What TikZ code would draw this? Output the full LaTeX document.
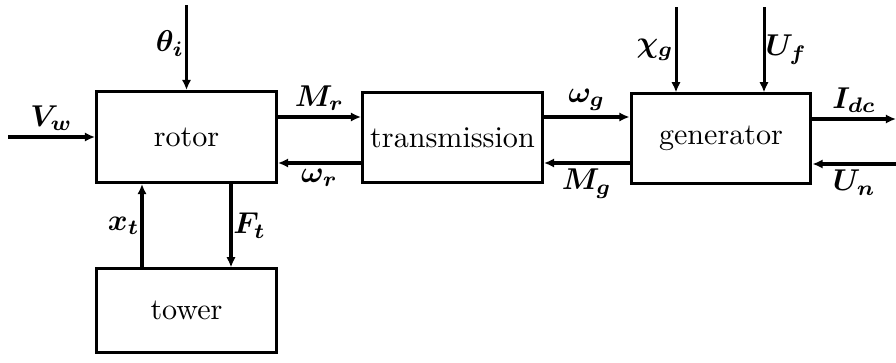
\documentclass[tikz,border=0pt]{standalone}
\usetikzlibrary{arrows.meta}
\begin{document}
\boldmath
\begin{tikzpicture}[
        x=0.01167cm, y=-0.01167cm,
        bloque/.style={rectangle, draw, line width=1pt, align=center, minimum width=2.1cm, minimum height=1.06cm, inner sep=0pt},
        senal/.style={-{Latex[length=3.4pt, width=3.1pt]}, line width=1pt},
        etq/.style={inner sep=1.5pt},
        etqv/.style={inner sep=0.3pt}
    ]
        \useasboundingbox (0,0) rectangle (896,363);
        \node[bloque] (rotor) at (186.5,137) {rotor};
        \node[bloque] (trans) at (452.5,137.5) {transmission};
        \node[bloque, minimum height=1.04cm] (gen) at (721,138.5) {generator};
        \node[bloque, minimum height=0.97cm] (tower) at (186.5,310.5) {tower};

        \coordinate (arriba) at (0,117);
        \coordinate (abajo) at (0,163);
        \coordinate (vw) at (8,137);
        \coordinate (theta) at (186.5,5);
        \coordinate (chi) at (676,7);
        \coordinate (uf) at (764,7);
        \coordinate (idc) at (896,119);
        \coordinate (un) at (896,164);
        \coordinate (xt) at (142,0);
        \coordinate (ft) at (231,0);

        \draw[senal] (vw) -- node[above, etq] {$V_w$} (rotor.west |- vw);
        \draw[senal] (theta) -- node[pos=0.45, left, etqv] {$\theta_i$} (rotor.north);
        \draw[senal] (rotor.east |- arriba) -- node[above, etq] {$M_r$} (trans.west |- arriba);
        \draw[senal] (trans.west |- abajo) -- node[below, etq] {$\omega_r$} (rotor.east |- abajo);
        \draw[senal] (trans.east |- arriba) -- node[above, etq] {$\omega_g$} (gen.west |- arriba);
        \draw[senal] (gen.west |- abajo) -- node[below, etq] {$M_g$} (trans.east |- abajo);
        \draw[senal] (chi) -- node[left, etqv] {$\chi_g$} (gen.north -| chi);
        \draw[senal] (uf) -- node[right, inner sep=0pt] {$U_f$} (gen.north -| uf);
        \draw[senal] (gen.east |- idc) -- node[above, etq] {$I_{dc}$} (idc);
        \draw[senal] (un) -- node[below, etq] {$U_n$} (gen.east |- un);
        \draw[senal] (tower.north -| xt) -- node[left, etqv] {$x_t$} (rotor.south -| xt);
        \draw[senal] (rotor.south -| ft) -- node[right, etqv] {$F_t$} (tower.north -| ft);
    \end{tikzpicture}
\end{document}
